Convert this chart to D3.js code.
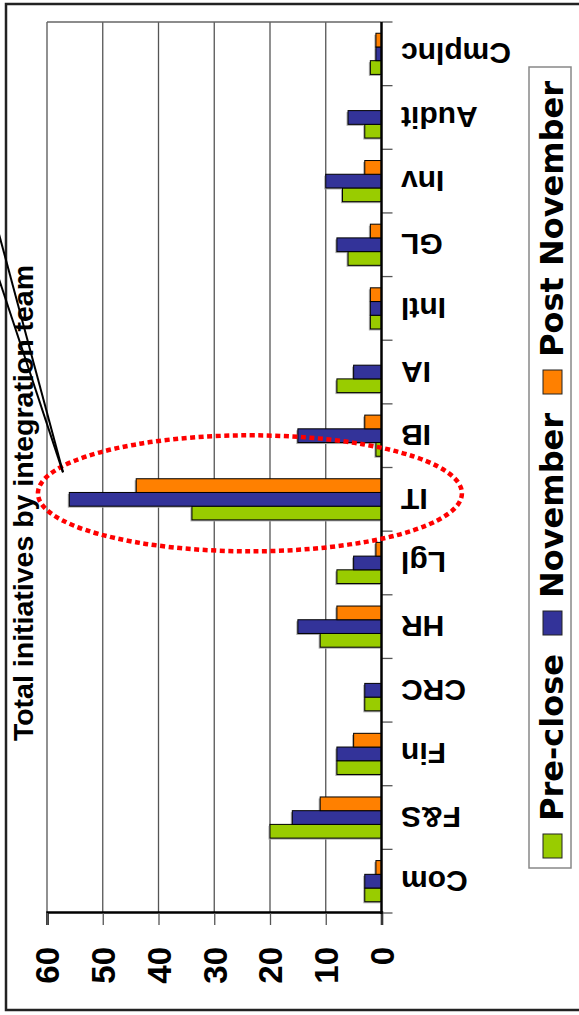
<!DOCTYPE html>
<html>
<head>
<meta charset="utf-8">
<script src="https://cdn.jsdelivr.net/npm/d3@7"></script>
<style>
  body { margin: 0; background: #fff; }
  svg { display: block; }
  .tick-label { font-family: 'Liberation Sans', Arial, sans-serif; font-weight: bold; }
</style>
</head>
<body>
<script>
// Chart data (the slide is a column chart turned on its side)
const categories = ['Com', 'F&S', 'Fin', 'CRC', 'HR', 'Lgl', 'IT', 'IB', 'IA', 'Intl', 'GL', 'Inv', 'Audit', 'Cmplnc'];
const seriesNames = ['Pre-close', 'November', 'Post November'];
const preClose = [3, 20, 8, 3, 11, 8, 34, 1, 8, 2, 6, 7, 3, 2];
const november = [3, 16, 8, 3, 15, 5, 56, 15, 5, 2, 8, 10, 6, 1];
const postNovember = [1, 11, 5, 0, 8, 1, 44, 3, 0, 2, 2, 3, 0, 1];
const valueTicks = [0, 10, 20, 30, 40, 50, 60];
const chartTitle = 'Total initiatives by integration team';
const highlighted = 'IT';

class SideColumnChart {
  constructor(svgContainer) {
    this.svg = svgContainer;
    this.init();
    this.update();
  }

  init() {
    // Inner frame is the unrotated slide: 1015 wide, 579 tall
    this.frameW = 1015;
    this.frameH = 579;

    this.chart = this.svg.append('g')
      .attr('transform', `translate(0,${this.frameW}) rotate(-90)`);

    this.colors = d3.scaleOrdinal()
      .domain(seriesNames)
      .range(['#99cc00', '#333399', '#ff8000']);

    this.xScale = d3.scaleBand()
      .domain(categories)
      .range([102, 993]);

    this.yScale = d3.scaleLinear()
      .domain([0, 60])
      .range([381.5, 47]);

    // Bars inside one category slot
    this.xSub = d3.scaleBand()
      .domain(seriesNames)
      .range([0, this.xScale.bandwidth()])
      .paddingOuter(0.82);
  }

  update() {
    const vis = this;
    const g = vis.chart;

    // Slide frame
    g.append('rect')
      .attr('x', 5).attr('y', 6)
      .attr('width', 1006).attr('height', 700)
      .attr('fill', '#fff')
      .attr('stroke', '#222')
      .attr('stroke-width', 2.5);

    // Gridlines
    g.selectAll('.grid')
      .data(valueTicks.filter((v) => v > 0))
      .enter().append('line')
      .attr('class', 'grid')
      .attr('x1', vis.xScale.range()[0])
      .attr('x2', vis.xScale.range()[1])
      .attr('y1', (d) => vis.yScale(d))
      .attr('y2', (d) => vis.yScale(d))
      .attr('stroke', '#555')
      .attr('stroke-width', 1.3);

    // Plot area edge at the far end
    g.append('line')
      .attr('x1', vis.xScale.range()[1]).attr('x2', vis.xScale.range()[1])
      .attr('y1', vis.yScale(60)).attr('y2', vis.yScale(0))
      .attr('stroke', '#666')
      .attr('stroke-width', 1.3);

    // Bars
    const rows = categories.map((c, i) => ({
      cat: c,
      values: [preClose[i], november[i], postNovember[i]].map((v, j) => ({ name: seriesNames[j], value: v })),
    }));

    const groups = g.selectAll('.cat')
      .data(rows)
      .enter().append('g')
      .attr('class', 'cat')
      .attr('transform', (d) => `translate(${vis.xScale(d.cat)},0)`);

    const bars = groups.selectAll('.bar')
      .data((d) => d.values.filter((v) => v.value > 0))
      .enter();

    // light shadow under each bar
    bars.append('rect')
      .attr('x', (d) => vis.xSub(d.name) - 1.5)
      .attr('y', (d) => vis.yScale(d.value) - 1.5)
      .attr('width', vis.xSub.bandwidth())
      .attr('height', (d) => vis.yScale(0) - vis.yScale(d.value))
      .attr('fill', '#aaa');

    bars.append('rect')
      .attr('class', 'bar')
      .attr('x', (d) => vis.xSub(d.name))
      .attr('y', (d) => vis.yScale(d.value))
      .attr('width', vis.xSub.bandwidth())
      .attr('height', (d) => vis.yScale(0) - vis.yScale(d.value))
      .attr('fill', (d) => vis.colors(d.name))
      .attr('stroke', '#000')
      .attr('stroke-width', 1);

    // Value axis
    const yAxis = g.append('g')
      .attr('transform', `translate(${vis.xScale.range()[0]},0)`)
      .call(d3.axisLeft(vis.yScale).tickValues(valueTicks).tickSize(12).tickPadding(22));
    yAxis.select('.domain').attr('stroke', '#000').attr('stroke-width', 2.5);
    yAxis.selectAll('.tick line').attr('stroke', '#555').attr('stroke-width', 1.3);
    yAxis.selectAll('text')
      .attr('class', 'tick-label')
      .attr('dy', '0.36em')
      .style('font-size', '33px')
      .attr('fill', '#000');

    // Category axis: labels from the axis, ticks between slots
    const xAxis = g.append('g')
      .attr('transform', `translate(0,${vis.yScale(0)})`)
      .call(d3.axisBottom(vis.xScale).tickSize(0).tickPadding(0));
    xAxis.select('.domain').remove();
    xAxis.selectAll('text')
      .attr('class', 'tick-label')
      .attr('transform', 'rotate(-90)')
      .attr('x', -19.5)
      .attr('y', 0)
      .attr('dy', '0.35em')
      .style('text-anchor', 'end')
      .style('font-size', '30px')
      .attr('fill', '#000');

    const edges = categories.map((c) => vis.xScale(c)).concat([vis.xScale.range()[1]]);
    g.selectAll('.cat-tick')
      .data(edges)
      .enter().append('line')
      .attr('class', 'cat-tick')
      .attr('x1', (d) => d).attr('x2', (d) => d)
      .attr('y1', vis.yScale(0)).attr('y2', vis.yScale(0) + 11)
      .attr('stroke', '#555')
      .attr('stroke-width', 1.3);

    g.append('line')
      .attr('x1', vis.xScale.range()[0] - 1).attr('x2', vis.xScale.range()[1])
      .attr('y1', vis.yScale(0)).attr('y2', vis.yScale(0))
      .attr('stroke', '#000')
      .attr('stroke-width', 2.5);

    // Title
    g.append('text')
      .attr('x', 512)
      .attr('y', 33)
      .attr('text-anchor', 'middle')
      .style('font-family', "'Liberation Sans', Arial, sans-serif")
      .style('font-weight', 'bold')
      .style('font-size', '28.5px')
      .text(chartTitle);

    // Legend
    g.append('rect')
      .attr('x', 147).attr('y', 529)
      .attr('width', 801).attr('height', 42)
      .attr('fill', '#fff')
      .attr('stroke', '#888')
      .attr('stroke-width', 1.5);

    const legendX = [157, 380, 621];
    const legend = g.selectAll('.legend')
      .data(seriesNames)
      .enter().append('g')
      .attr('class', 'legend')
      .attr('transform', (d, i) => `translate(${legendX[i]},0)`);

    legend.append('rect')
      .attr('x', 0).attr('y', 543)
      .attr('width', 24).attr('height', 19)
      .attr('fill', (d) => vis.colors(d))
      .attr('stroke', '#222')
      .attr('stroke-width', 1);

    legend.append('text')
      .attr('x', 37)
      .attr('y', 563)
      .style('font-family', "'DejaVu Sans', sans-serif")
      .style('font-weight', 'bold')
      .style('font-size', '32px')
      .text((d) => d);

    // Highlight ring around IT and the callout lines
    const itCenter = vis.xScale(highlighted) + vis.xScale.bandwidth() / 2 + 6;
    g.append('ellipse')
      .attr('cx', itCenter)
      .attr('cy', vis.yScale(23.6))
      .attr('rx', 58)
      .attr('ry', 212)
      .attr('fill', 'none')
      .attr('stroke', '#ff0000')
      .attr('stroke-width', 4.5)
      .attr('stroke-dasharray', '5 3.5');

    const tip = [itCenter + 21, 63];
    [[807, -8], [757, -8]].forEach((p) => {
      g.append('line')
        .attr('x1', tip[0]).attr('y1', tip[1])
        .attr('x2', p[0]).attr('y2', p[1])
        .attr('stroke', '#000')
        .attr('stroke-width', 2);
    });
  }
}

const svg = d3.select('body').append('svg')
  .attr('width', 579)
  .attr('height', 1015);

new SideColumnChart(svg);
</script>
</body>
</html>
